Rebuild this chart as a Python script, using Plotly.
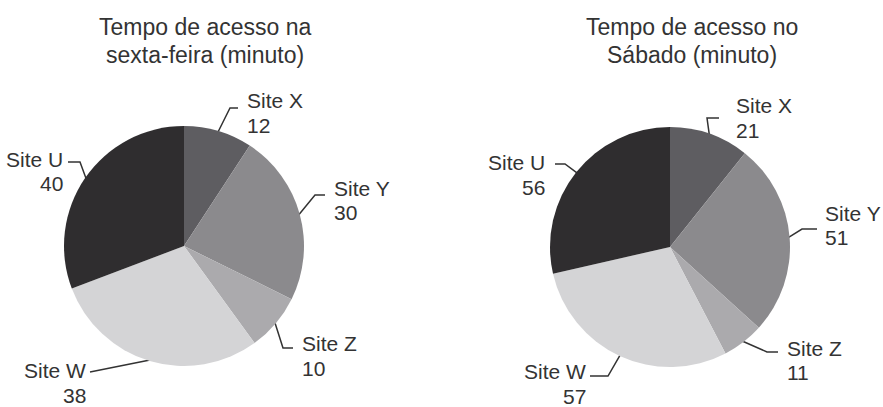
import math
import plotly.graph_objects as go

W, H = 883, 407

# ---------------- data ----------------
sites = ["Site X", "Site Y", "Site Z", "Site W", "Site U"]
friday_minutes = [12, 30, 10, 38, 40]
saturday_minutes = [21, 51, 11, 57, 56]
title_lines = [["Tempo de acesso na", "sexta-feira (minuto)"],
               ["Tempo de acesso no", "Sábado (minuto)"]]

# ---------------- style / layout ----------------
colors = ["#5e5d61", "#8b8a8d", "#abaaad", "#d4d4d6", "#2f2d2f"]
FONT = "Liberation Sans, Arial, Helvetica, sans-serif"
TEXT_COLOR = "#333333"
LINE_COLOR = "#333333"
LABEL_SIZE = 21
TITLE_SIZE = 23

# pixel layout for each pie: centre, radius, title position (x, y1, y2),
# and for every slice label: knee point, end of leader, text (x, y1, y2)
pie_layouts = [
    dict(cx=184, cy=246, r=120, title=(204.5, 27, 55),
         labels=[
             dict(knee=(230, 108), end=(238, 108), text=(246, 100, 125), anchor="left"),
             dict(knee=(315, 195), end=(325, 195), text=(333, 188, 212), anchor="left"),
             dict(knee=(283, 348), end=(293, 348), text=(301, 343, 368), anchor="left"),
             dict(knee=(98, 371), end=(90, 372), text=(87, 370, 395), anchor="right"),
             dict(knee=(80, 162), end=(68, 162), text=(64, 159, 183), anchor="right"),
         ]),
    dict(cx=670, cy=247, r=120, title=(691.5, 27, 55),
         labels=[
             dict(knee=(707, 118), end=(719, 118), text=(735, 105, 130), anchor="left"),
             dict(knee=(802, 229), end=(817, 229), text=(824, 213, 237), anchor="left"),
             dict(knee=(767, 352), end=(778, 352), text=(786, 348, 372), anchor="left"),
             dict(knee=(608, 376), end=(590, 376), text=(587, 371, 396), anchor="right"),
             dict(knee=(565, 164), end=(555, 164), text=(546, 162, 187), anchor="right"),
         ]),
]

series = [friday_minutes, saturday_minutes]

fig = go.Figure()
annotations = []


def text_ann(x, y, txt, anchor, size):
    return dict(x=x, y=y, xref="x", yref="y", showarrow=False, text=txt,
                xanchor=anchor, yanchor="middle", borderpad=0,
                font=dict(family=FONT, size=size, color=TEXT_COLOR))


for values, lay, tl in zip(series, pie_layouts, title_lines):
    cx, cy, r = lay["cx"], lay["cy"], lay["r"]
    fig.add_trace(go.Pie(
        values=values, labels=sites, sort=False, direction="clockwise",
        rotation=0, textinfo="none", hoverinfo="label+value",
        marker=dict(colors=colors, line=dict(width=0)),
        domain=dict(x=[(cx - r) / W, (cx + r) / W],
                    y=[1 - (cy + r) / H, 1 - (cy - r) / H]),
        showlegend=False,
    ))
    total = sum(values)
    cum = 0
    for name, v, lab in zip(sites, values, lay["labels"]):
        mid = (cum + v / 2) / total * 2 * math.pi
        cum += v
        ex = cx + (r - 1) * math.sin(mid)
        ey = cy - (r - 1) * math.cos(mid)
        kx, ky = lab["knee"]
        qx, qy = lab["end"]
        fig.add_trace(go.Scatter(
            x=[ex, kx, qx], y=[ey, ky, qy], mode="lines",
            line=dict(color=LINE_COLOR, width=1.5),
            hoverinfo="skip", showlegend=False,
        ))
        tx, ty1, ty2 = lab["text"]
        annotations.append(text_ann(tx, ty1, name, lab["anchor"], LABEL_SIZE))
        annotations.append(text_ann(tx, ty2, str(v), lab["anchor"], LABEL_SIZE))
    tx, ty1, ty2 = lay["title"]
    annotations.append(text_ann(tx, ty1, tl[0], "center", TITLE_SIZE))
    annotations.append(text_ann(tx, ty2, tl[1], "center", TITLE_SIZE))

fig.update_layout(
    width=W, height=H,
    margin=dict(l=0, r=0, t=0, b=0),
    paper_bgcolor="white", plot_bgcolor="rgba(0,0,0,0)",
    xaxis=dict(range=[0, W], visible=False, fixedrange=True, domain=[0, 1]),
    yaxis=dict(range=[H, 0], visible=False, fixedrange=True, domain=[0, 1]),
    annotations=annotations,
    showlegend=False,
)

fig.write_html("out.html",
               config={"displayModeBar": False},
               post_script="document.body.style.margin='0';"
                           "document.body.style.overflow='hidden';")
